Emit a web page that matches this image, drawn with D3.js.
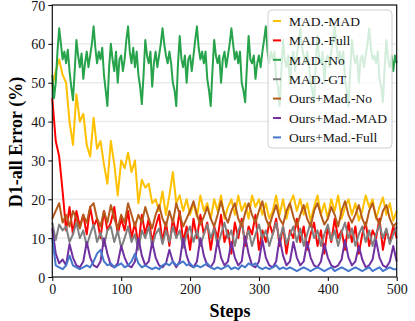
<!DOCTYPE html>
<html>
<head>
<meta charset="utf-8">
<script src="https://cdn.jsdelivr.net/npm/d3@7"></script>
<style>
  body { margin: 0; background: #fff; }
  svg { display: block; }
</style>
</head>
<body>
<svg id="chart" width="415" height="321"></svg>
<script>
// most series sampled every 5 steps (0..500); MAD.-No every 2.5 steps
const seriesNames = ["MAD.-MAD", "MAD.-Full", "MAD.-No", "MAD.-GT",
  "Ours+Mad.-No", "Ours+Mad.-MAD", "Ours+Mad.-Full"];
const seriesColors = ["#ffc000", "#ff0000", "#27a34b", "#808080",
  "#b35a1c", "#7030a0", "#4577cc"];
const stepSizes = [5, 5, 2.5, 5, 5, 5, 5];

const madMad = [49, 53, 56, 52, 50, 40, 34, 47, 40, 42,
  34, 31, 41, 33, 35, 29, 24, 35, 29, 21,
  30, 28, 32, 27, 30, 19, 25, 23, 24, 19,
  20, 17, 22, 16, 21, 27, 19, 21, 17, 20,
  16, 19, 15.5, 21, 17, 19, 15, 20, 17, 21,
  15, 18, 20, 16, 21, 17, 19, 15, 21, 18,
  20, 16, 19, 15, 17, 21, 16, 20, 15, 19,
  21, 17, 20, 16, 19, 14.5, 18, 21, 16, 19,
  15, 20, 17, 21, 15, 18, 20, 16, 19, 14.5,
  17, 21, 18, 20, 15, 18, 20.5, 16, 19, 14.5,
  17];

const madFull = [46, 35, 31, 22, 12, 18, 11, 17, 13, 16,
  11, 18, 13, 15, 10, 17, 12, 14, 18, 11,
  15, 12, 17, 10, 14, 8, 16, 11, 15, 9,
  13, 16, 9, 14, 8, 15, 11, 17, 9, 13,
  7, 15, 10, 16, 11, 14, 7, 13, 10, 16,
  9, 12, 6, 14, 10, 15, 8, 13, 11, 16,
  7, 12, 9, 14, 11, 15, 8, 13, 6, 12,
  10, 15, 9, 13, 7, 11, 14, 8, 12, 6,
  13, 9, 15, 10, 12, 7, 14, 9, 13, 6,
  11, 14, 8, 12, 10, 15, 7, 12, 9, 13,
  10];

const madNo = [52, 46, 50, 58,
  64, 60, 56, 58, 55, 58.5, 53, 49, 45.5, 53, 61, 57, 54, 57.5, 51, 55, 58, 54, 57, 60,
  64.5, 59, 55, 58, 56, 59, 52, 48, 44, 54, 60, 56, 53, 58, 50, 56, 57, 53, 56, 61,
  64.5, 58, 55, 59, 54, 58, 52, 49, 44.5, 52, 61, 57, 55, 58, 49, 55, 58, 54, 57, 60,
  64, 60, 57, 55, 58, 55, 50, 48, 44, 55, 62, 56, 54, 57, 50, 56, 57, 53, 57, 61,
  64.5, 59, 56, 58, 55, 58, 51, 48, 44, 53, 61, 57, 55, 57, 50, 56, 58, 54, 57, 60,
  64, 60, 56, 58, 55, 58, 50, 48, 45, 54, 62, 56, 55, 57, 51, 55, 57, 54, 58, 61,
  64.5, 58, 55, 58, 56, 58, 51, 49, 44, 53, 61, 56, 54, 57, 50, 56, 58, 53, 57, 60,
  64, 59, 57, 55, 58, 55, 50, 48, 45, 55, 62, 56, 55, 58, 50, 56, 57, 54, 58, 61,
  64.5, 60, 56, 58, 55, 58, 51, 48, 44, 53, 61, 57, 55, 57, 50, 56, 57, 54, 57, 60,
  64, 59, 56, 57, 55, 58, 51, 49, 45, 54, 61, 56, 54, 57, 53, 57,
  55];

const madGT = [14, 9.5, 13.5, 12, 13, 9, 11, 14, 10, 12,
  8, 11, 13.5, 9, 11.5, 8, 12, 13, 9, 12,
  7.5, 10, 13, 9, 11, 7, 12, 10, 13, 8,
  11, 12.5, 8.5, 12, 9, 13, 10, 12, 7.5, 11,
  13, 9, 12, 8, 11, 13.5, 10, 12.5, 8, 11,
  14, 10, 12, 8, 12, 14, 9, 12, 8, 11,
  13.5, 10, 12, 8, 11, 14, 9.5, 13, 8.5, 11,
  13, 9, 12.5, 8, 11, 14, 10, 12, 8, 11,
  13.5, 9.5, 12, 8, 11.5, 14, 10, 12.5, 8, 11,
  13, 9, 12, 8, 11, 13.5, 10, 12.5, 8.5, 11,
  13];

const oursNo = [15, 17, 19, 14, 16, 13, 17, 15, 12.5, 16,
  14, 18, 19, 15, 13, 17, 14, 18.5, 15, 12.5,
  16, 14, 19, 16, 13, 16, 14, 18, 15, 12.5,
  16, 18.5, 15, 13, 17, 14, 19, 16, 13, 15,
  17, 19.5, 16, 13.5, 15.5, 18, 15, 13, 16, 19.5,
  16, 14, 17, 19, 15, 13, 16.5, 19, 16, 14,
  17, 19.5, 15, 13, 16, 18.5, 15, 13.5, 17, 19,
  15.5, 13, 16, 18.5, 15, 13, 17, 19, 16, 13.5,
  15, 18, 16, 13, 17, 19.5, 16, 14, 16, 18.5,
  15, 13, 17, 19, 15.5, 13.5, 17, 18.5, 15, 13,
  14];

const oursMad = [12.5, 6, 3.5, 4.5, 3, 8.5, 5, 3, 2.5, 4,
  9, 5, 3, 2.5, 4, 10, 6, 3, 2.5, 3.5,
  8, 5, 3, 2.5, 4, 10, 5.5, 3, 4, 9,
  5, 3, 2.5, 3.5, 7, 4, 2.5, 4, 10, 5.5,
  3, 2.5, 4, 10, 5.5, 3, 2.5, 4, 9.5, 5,
  3, 4, 9, 5, 3, 4, 10.5, 6, 3, 2.5,
  4, 9.5, 5, 3, 2.5, 4, 10, 5.5, 3, 4,
  9, 5, 3, 4, 9, 5, 3, 2.5, 4, 8.5,
  5, 3, 2.5, 3, 4.5, 9.5, 5, 3, 4, 8,
  4.5, 2.5, 3, 4.5, 9.5, 5, 3, 2.5, 4, 8,
  4];

const oursFull = [10, 3, 2.5, 2, 3, 5.5, 3, 2.5, 2, 2.5,
  3, 2.5, 4, 6, 7, 4, 3, 3.5, 2.5, 3,
  3.5, 2.5, 3, 4, 6, 3.5, 2.5, 3, 2.5, 2,
  2.5, 2, 3, 3.5, 3, 4, 3, 3.5, 4, 3,
  3.5, 2.5, 3, 2.5, 3, 3.5, 2.5, 2, 2.5, 2,
  2.5, 3, 2, 2.5, 2, 3, 2.5, 3.5, 3, 3.5,
  2.5, 2, 2.5, 2, 2.5, 3, 2, 2.5, 2, 2.5,
  2, 1.5, 2, 2.5, 2, 1.5, 2, 2.5, 2, 1.5,
  2, 2.5, 1.5, 2, 2.5, 2, 1.5, 2, 2.5, 2,
  1.5, 2, 2.5, 1.5, 2, 2.5, 1.5, 2, 2.5, 2,
  2];

const allSeries = [madMad, madFull, madNo, madGT, oursNo, oursMad, oursFull];

const xTicks = [0, 100, 200, 300, 400, 500];
const yTicks = [0, 10, 20, 30, 40, 50, 60, 70];

const svg = d3.select("#chart");
const plotLeft = 52.3, plotRight = 396.7, plotTop = 5, plotBottom = 277;
const font = "'Liberation Serif', 'Times New Roman', serif";

const x = d3.scaleLinear().domain([0, 500]).range([plotLeft, plotRight]);
const y = d3.scaleLinear().domain([0, 70]).range([plotBottom, plotTop]);

// horizontal grid
svg.append("g")
  .selectAll("line")
  .data(yTicks.slice(1, -1))
  .join("line")
  .attr("x1", plotLeft).attr("x2", plotRight)
  .attr("y1", d => y(d)).attr("y2", d => y(d))
  .attr("stroke", "#ebebeb")
  .attr("stroke-width", 1.5);

// series lines, each with its own sampling interval
svg.append("g")
  .selectAll("path")
  .data(allSeries)
  .join("path")
  .attr("d", (vals, k) => d3.line()
    .x((d, i) => x(i * stepSizes[k]))
    .y(d => y(d))(vals))
  .attr("fill", "none")
  .attr("stroke", (d, i) => seriesColors[i])
  .attr("stroke-width", 2)
  .attr("stroke-linejoin", "round");

// axes
const xAxis = svg.append("g")
  .attr("transform", `translate(0,${plotBottom})`)
  .call(d3.axisBottom(x).tickValues(xTicks).tickSize(4).tickPadding(3));
const yAxis = svg.append("g")
  .attr("transform", `translate(${plotLeft},0)`)
  .call(d3.axisLeft(y).tickValues(yTicks).tickSize(4).tickPadding(3));

[xAxis, yAxis].forEach(a => {
  a.select(".domain").remove();
  a.selectAll("line").attr("stroke", "#000").attr("stroke-width", 1);
  a.selectAll("text")
    .attr("font-family", font)
    .attr("font-size", 14)
    .attr("fill", "#111");
});
yAxis.selectAll("text").attr("dy", "0.36em");

// frame
svg.append("rect")
  .attr("x", plotLeft).attr("y", plotTop)
  .attr("width", plotRight - plotLeft).attr("height", plotBottom - plotTop)
  .attr("fill", "none")
  .attr("stroke", "#111")
  .attr("stroke-width", 1.2);

// axis titles
svg.append("text")
  .attr("x", 230).attr("y", 317)
  .attr("text-anchor", "middle")
  .attr("font-family", font)
  .attr("font-weight", "bold")
  .attr("font-size", 18)
  .text("Steps");

svg.append("text")
  .attr("transform", "translate(22,142) rotate(-90)")
  .attr("text-anchor", "middle")
  .attr("font-family", font)
  .attr("font-weight", "bold")
  .attr("font-size", 18)
  .text("D1-all Error (%)");

// legend
const legend = svg.append("g").attr("transform", "translate(268,10)");
legend.append("rect")
  .attr("width", 124).attr("height", 138)
  .attr("rx", 4)
  .attr("fill", "#fff").attr("fill-opacity", 0.8)
  .attr("stroke", "#d0d0d0");

const items = legend.selectAll("g.item")
  .data(seriesNames)
  .join("g")
  .attr("class", "item")
  .attr("transform", (d, i) => `translate(0,${11 + i * 19.4})`);

items.append("line")
  .attr("x1", 5).attr("x2", 13)
  .attr("stroke", (d, i) => seriesColors[i])
  .attr("stroke-width", 2);

items.append("text")
  .attr("x", 21)
  .attr("dy", "0.35em")
  .attr("font-family", font)
  .attr("font-size", 13.5)
  .attr("fill", "#111")
  .text(d => d);
</script>
</body>
</html>
